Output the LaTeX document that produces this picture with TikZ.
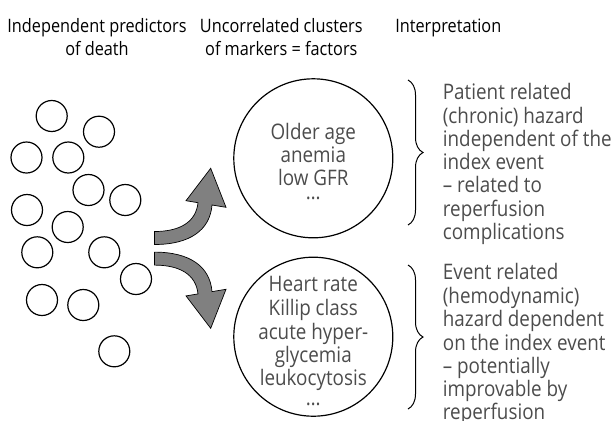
\documentclass[tikz,border=0pt]{standalone}
\usepackage{fontspec}
\setmainfont{Open Sans}[FakeStretch=0.88]
\usetikzlibrary{decorations.pathreplacing}
\begin{document}
\begin{tikzpicture}[x=1bp,y=1bp,
  marker/.style={circle,draw=black,line width=1.2bp,minimum size=31bp,inner sep=0pt},
  cluster/.style={circle,draw=black,line width=1.2bp,minimum size=159bp,inner sep=0pt},
  head/.style={font=\fontsize{18.5bp}{23bp}\selectfont,text=black,align=center,anchor=north,inner sep=0pt},
  body/.style={font=\fontsize{21.4bp}{23.1bp}\selectfont,text=black!70,inner sep=0pt},
  bendarrow/.style={fill=black!50,draw=black,line width=0.7bp,line join=miter},
  hazard/.style={decorate,decoration={brace,amplitude=15bp},line width=1bp},
]
\useasboundingbox (0,0) rectangle (614,-420);

% column headings
\node[head] (h1) at (97,-15.9) {\strut Independent predictors\\of death};
\node[head] (h2) at (281.3,-15.9) {\strut Uncorrelated clusters\\of markers = factors};
\node[head] (h3) at (448.3,-15.9) {\strut Interpretation};

% independent predictors
\node[marker] (p1)  at (51.7,-116) {};
\node[marker] (p2)  at (99,-131.7) {};
\node[marker] (p3)  at (26.5,-157.5) {};
\node[marker] (p4)  at (68.3,-157.5) {};
\node[marker] (p5)  at (88.5,-190) {};
\node[marker] (p6)  at (125.3,-200) {};
\node[marker] (p7)  at (27,-210) {};
\node[marker] (p8)  at (67.7,-227) {};
\node[marker] (p9)  at (37.3,-252.3) {};
\node[marker] (p10) at (104.3,-252.3) {};
\node[marker] (p11) at (136,-279) {};
\node[marker] (p12) at (42,-300) {};
\node[marker] (p13) at (83.3,-305) {};
\node[marker] (p14) at (114.3,-351.3) {};

% curved arrows towards the two factors
\path[bendarrow] (154.5,-231.5) -- (154.5,-244.5)
  .. controls (190,-244.5) and (210,-230) .. (212,-205)
  -- (226,-207.3) -- (210.7,-168.3) -- (186,-200.7) -- (198,-202.7)
  .. controls (196,-222) and (180,-231.5) .. (154.5,-231.5) -- cycle;
\path[bendarrow] (154.5,-265.1) -- (154.5,-252.1)
  .. controls (190,-252.1) and (210,-266.6) .. (212,-291.6)
  -- (226,-289.3) -- (210.7,-328.3) -- (186,-295.9) -- (198,-293.9)
  .. controls (196,-274.6) and (180,-265.1) .. (154.5,-265.1) -- cycle;

% factors
\node[cluster] (c1) at (313.3,-158.3) {};
\node[cluster] (c2) at (313.3,-336.7) {};
\node[body,align=center,anchor=north] (c1t) at (313.3,-123) {\strut Older age\\anemia\\low GFR\\[-9bp]…};
\node[body,align=center,anchor=north] (c2t) at (313.3,-275.4) {\strut Heart rate\\Killip class\\acute hyper-\\glycemia\\leukocytosis\\[-3bp]…};

% interpretation
\coordinate (b1s) at (408,-80);
\coordinate (b1e) at (408,-225);
\coordinate (b2s) at (408,-265);
\coordinate (b2e) at (408,-409);
\draw[hazard] (b1s) -- (b1e);
\draw[hazard] (b2s) -- (b2e);
\node[body,align=left,anchor=north west] (i1) at (442.7,-83) {\strut Patient related\\(chronic) hazard\\independent of the\\index event\\– related to\\reperfusion\\complications};
\node[body,align=left,anchor=north west] (i2) at (442.7,-263.2) {\strut Event related\\(hemodynamic)\\hazard dependent\\on the index event\\– potentially\\improvable by\\reperfusion};
\end{tikzpicture}
\end{document}
